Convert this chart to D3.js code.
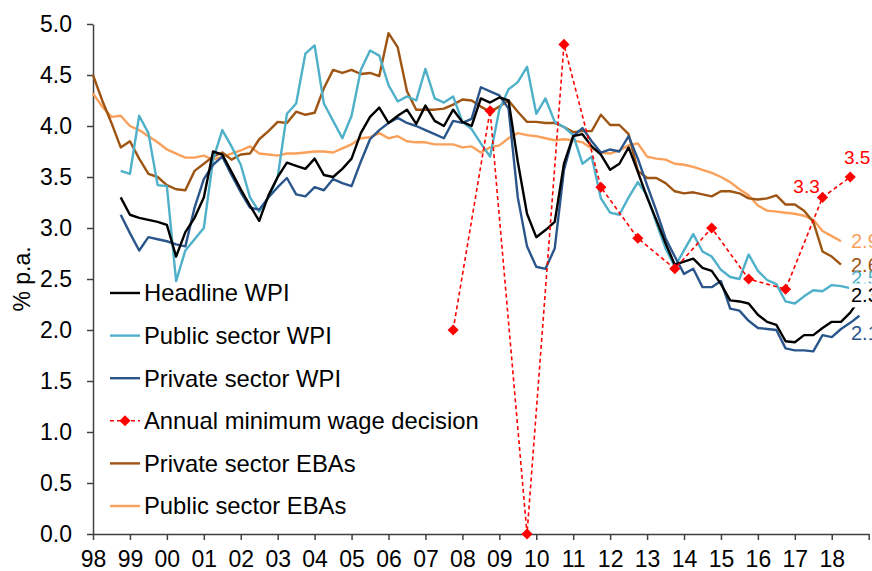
<!DOCTYPE html>
<html>
<head>
<meta charset="utf-8">
<script src="https://cdn.jsdelivr.net/npm/d3@7"></script>
<style>
  body { margin: 0; background: #fff; }
  svg text { font-family: "Liberation Sans", Arial, sans-serif; }
</style>
</head>
<body>
<script>
// quarterly WPI series, Sep-1998 to Sep-2018 (% p.a.)
var headline = [3.30,3.13,3.10,3.08,3.06,3.03,2.72,2.96,3.10,3.30,
  3.75,3.72,3.55,3.38,3.22,3.07,3.32,3.50,3.64,3.61,
  3.58,3.68,3.52,3.50,3.58,3.68,3.93,4.09,4.18,4.03,
  4.10,4.16,4.02,4.20,4.05,4.00,4.16,4.04,4.00,4.27,
  4.23,4.28,4.25,3.65,3.14,2.91,2.98,3.06,3.63,3.90,
  3.92,3.80,3.72,3.57,3.63,3.79,3.55,3.30,3.08,2.85,
  2.64,2.67,2.70,2.61,2.58,2.45,2.29,2.28,2.26,2.15,
  2.08,2.05,1.89,1.88,1.95,1.95,2.02,2.08,2.08,2.17,
  2.30]
var publicWpi = [3.56,3.53,4.10,3.93,3.42,3.41,2.48,2.78,2.89,3.00,
  3.67,3.96,3.80,3.62,3.30,3.16,3.30,3.50,4.12,4.22,
  4.71,4.79,4.22,4.05,3.88,4.10,4.55,4.74,4.69,4.40,
  4.24,4.29,4.25,4.56,4.27,4.23,4.29,4.04,3.97,3.83,
  3.70,4.16,4.36,4.43,4.58,4.12,4.27,4.04,3.99,3.91,
  3.63,3.70,3.29,3.15,3.13,3.30,3.45,3.32,3.05,2.80,
  2.62,2.78,2.94,2.77,2.72,2.59,2.52,2.50,2.74,2.58,
  2.49,2.45,2.28,2.26,2.33,2.39,2.38,2.44,2.43,2.41,
  2.47]
var privateWpi = [3.13,2.95,2.78,2.91,2.89,2.87,2.84,2.82,3.20,3.48,
  3.62,3.70,3.52,3.35,3.20,3.18,3.30,3.40,3.49,3.33,
  3.31,3.40,3.37,3.48,3.44,3.41,3.65,3.87,3.96,4.03,
  4.08,4.03,4.00,3.96,3.92,3.88,4.05,4.03,4.07,4.38,
  4.34,4.30,4.17,3.30,2.82,2.62,2.60,2.80,3.57,3.90,
  3.98,3.85,3.74,3.77,3.75,3.90,3.68,3.42,3.17,2.90,
  2.72,2.55,2.60,2.42,2.42,2.48,2.21,2.19,2.09,2.02,
  2.01,2.00,1.82,1.80,1.80,1.79,1.95,1.93,2.01,2.07,
  2.14]

// quarterly EBA series, Mar-1998 to Jun-2018 (% p.a.)
var privateEba = [4.50,4.25,4.03,3.79,3.85,3.68,3.53,3.50,3.42,3.38,
  3.37,3.56,3.63,3.70,3.74,3.67,3.72,3.73,3.87,3.95,
  4.04,4.03,4.14,4.11,4.13,4.37,4.55,4.52,4.55,4.51,
  4.52,4.49,4.91,4.77,4.34,4.16,4.16,4.16,4.17,4.21,
  4.26,4.25,4.19,4.14,4.19,4.25,4.14,4.04,4.04,4.03,
  4.03,3.99,3.94,3.95,3.95,4.11,4.01,4.01,3.92,3.56,
  3.49,3.49,3.44,3.36,3.34,3.35,3.33,3.31,3.36,3.36,
  3.34,3.29,3.28,3.29,3.32,3.23,3.23,3.17,3.06,2.77,
  2.72,2.64]
var publicEba = [4.32,4.19,4.09,4.10,4.00,3.96,3.90,3.84,3.77,3.73,
  3.69,3.69,3.71,3.67,3.70,3.73,3.76,3.80,3.73,3.72,
  3.71,3.73,3.73,3.74,3.75,3.75,3.74,3.78,3.82,3.88,
  3.89,3.93,3.88,3.90,3.85,3.84,3.84,3.82,3.82,3.82,
  3.79,3.80,3.74,3.79,3.81,3.88,3.93,3.91,3.90,3.88,
  3.86,3.87,3.86,3.84,3.78,3.74,3.73,3.76,3.81,3.83,
  3.70,3.68,3.67,3.63,3.62,3.60,3.57,3.54,3.50,3.45,
  3.38,3.32,3.22,3.17,3.16,3.15,3.14,3.12,3.08,2.97,
  2.92,2.87]

// annual minimum wage decisions
var mwDates = [2007.75, 2008.75, 2009.75, 2010.75, 2011.75, 2012.75, 2013.75, 2014.75, 2015.75, 2016.75, 2017.75, 2018.5]
var mwValues = [2.0, 4.15, 0.0, 4.8, 3.4, 2.9, 2.6, 3.0, 2.5, 2.4, 3.3, 3.5]

var yTicks = [0, 0.5, 1, 1.5, 2, 2.5, 3, 3.5, 4, 4.5, 5]
var xYears = d3.range(1998, 2020)

var wpiStart = 1998.75
var ebaStart = 1998.0

let w = 872
let h = 571

let svg = d3.select('body').append('svg').attr('width', w).attr('height', h)

let x = d3.scaleLinear().domain([1998, 2019]).range([93, 868.7])
let y = d3.scaleLinear().domain([0, 5]).range([534, 24])

let axisColor = '#404040'
let font = '"Liberation Sans", Arial, sans-serif'

// y axis
svg.append('g')
  .attr('transform', 'translate(93,0)')
  .call(d3.axisLeft(y).tickValues(yTicks).tickFormat(d3.format('.1f')).tickSize(6).tickSizeOuter(0).tickPadding(15))
  .attr('font-size', 23).attr('font-family', font)
  .call(g => g.selectAll('line,path').attr('stroke', axisColor).attr('stroke-width', 1.5))
  .call(g => g.selectAll('text').attr('fill', '#000'))

// x axis
svg.append('g')
  .attr('transform', 'translate(0,534)')
  .call(d3.axisBottom(x).tickValues(xYears).tickFormat(d => d === 2019 ? '' : String(d).slice(2)).tickSize(6).tickSizeOuter(0).tickPadding(11))
  .attr('font-size', 23).attr('font-family', font)
  .call(g => g.selectAll('line,path').attr('stroke', axisColor).attr('stroke-width', 1.5))
  .call(g => g.selectAll('text').attr('fill', '#000'))

svg.append('text')
  .attr('transform', 'translate(30,279) rotate(-90)')
  .attr('text-anchor', 'middle')
  .attr('font-size', 23)
  .attr('fill', '#000')
  .text('% p.a.')

let toPoints = (vals, start) => vals.map((v, i) => ({t: start + i / 4, v: v}))
let line = d3.line().x(d => x(d.t)).y(d => y(d.v))

let series = [
  {name: 'Public sector EBAs', vals: publicEba, start: ebaStart, color: '#F9A05B', dy: 0},
  {name: 'Private sector EBAs', vals: privateEba, start: ebaStart, color: '#9E5412', dy: 0},
  {name: 'Public sector WPI', vals: publicWpi, start: wpiStart, color: '#4FB0C9', dy: -4},
  {name: 'Private sector WPI', vals: privateWpi, start: wpiStart, color: '#2B568B', dy: 17},
  {name: 'Headline WPI', vals: headline, start: wpiStart, color: '#000000', dy: -4}
]

series.forEach(s => {
  svg.append('path')
    .datum(toPoints(s.vals, s.start))
    .attr('d', line)
    .attr('fill', 'none')
    .attr('stroke', s.color)
    .attr('stroke-width', 2.4)
    .attr('stroke-linejoin', 'round')
})

// minimum wage decisions
let mw = mwDates.map((t, i) => ({t: t, v: mwValues[i]}))
svg.append('path')
  .datum(mw)
  .attr('d', line)
  .attr('fill', 'none')
  .attr('stroke', '#FF0000')
  .attr('stroke-width', 1.6)
  .attr('stroke-dasharray', '4,3')

let diamond = d3.symbol().type(d3.symbolSquare).size(62)
svg.selectAll('.mw')
  .data(mw)
  .enter()
  .append('path')
  .attr('class', 'mw')
  .attr('d', diamond)
  .attr('transform', d => 'translate(' + x(d.t) + ',' + y(d.v) + ') rotate(45)')
  .attr('fill', '#FF0000')

// labels on last two decisions
let mwLabelOffsets = [[-16, -4], [7, -13]]
mw.slice(-2).forEach((d, i) => {
  svg.append('text')
    .attr('x', x(d.t) + mwLabelOffsets[i][0])
    .attr('y', y(d.v) + mwLabelOffsets[i][1])
    .attr('text-anchor', 'middle')
    .attr('font-size', 19)
    .attr('fill', '#FF0000')
    .text(d3.format('.1f')(d.v))
})

// end-of-line labels
series.forEach(s => {
  let last = s.vals[s.vals.length - 1]
  let ly = y(last) + s.dy
  if (s.name === 'Headline WPI') {
    svg.append('rect').attr('x', 849).attr('y', ly - 12).attr('width', 30).attr('height', 24).attr('fill', '#fff')
  }
  svg.append('text')
    .attr('x', 851)
    .attr('y', ly)
    .attr('dy', '0.35em')
    .attr('font-size', 20)
    .attr('fill', s.color)
    .text(d3.format('.1f')(last))
})

// legend
let legend = [
  {name: 'Headline WPI', color: '#000000'},
  {name: 'Public sector WPI', color: '#4FB0C9'},
  {name: 'Private sector WPI', color: '#2B568B'},
  {name: 'Annual minimum wage decision', color: '#FF0000', mw: true},
  {name: 'Private sector EBAs', color: '#9E5412'},
  {name: 'Public sector EBAs', color: '#F9A05B'}
]

let lg = svg.selectAll('.legend')
  .data(legend)
  .enter()
  .append('g')
  .attr('class', 'legend')
  .attr('transform', (d, i) => 'translate(0,' + (293 + i * 42.6) + ')')

lg.append('line')
  .attr('x1', 110).attr('x2', 140)
  .attr('stroke', d => d.color)
  .attr('stroke-width', d => d.mw ? 1.6 : 2.4)
  .attr('stroke-dasharray', d => d.mw ? '4,3' : null)

lg.filter(d => d.mw)
  .append('path')
  .attr('d', diamond)
  .attr('transform', 'translate(125,0) rotate(45)')
  .attr('fill', '#FF0000')

lg.append('text')
  .attr('x', 144)
  .attr('dy', '0.35em')
  .attr('font-size', 23.8)
  .attr('fill', '#000')
  .text(d => d.name)
</script>
</body>
</html>
